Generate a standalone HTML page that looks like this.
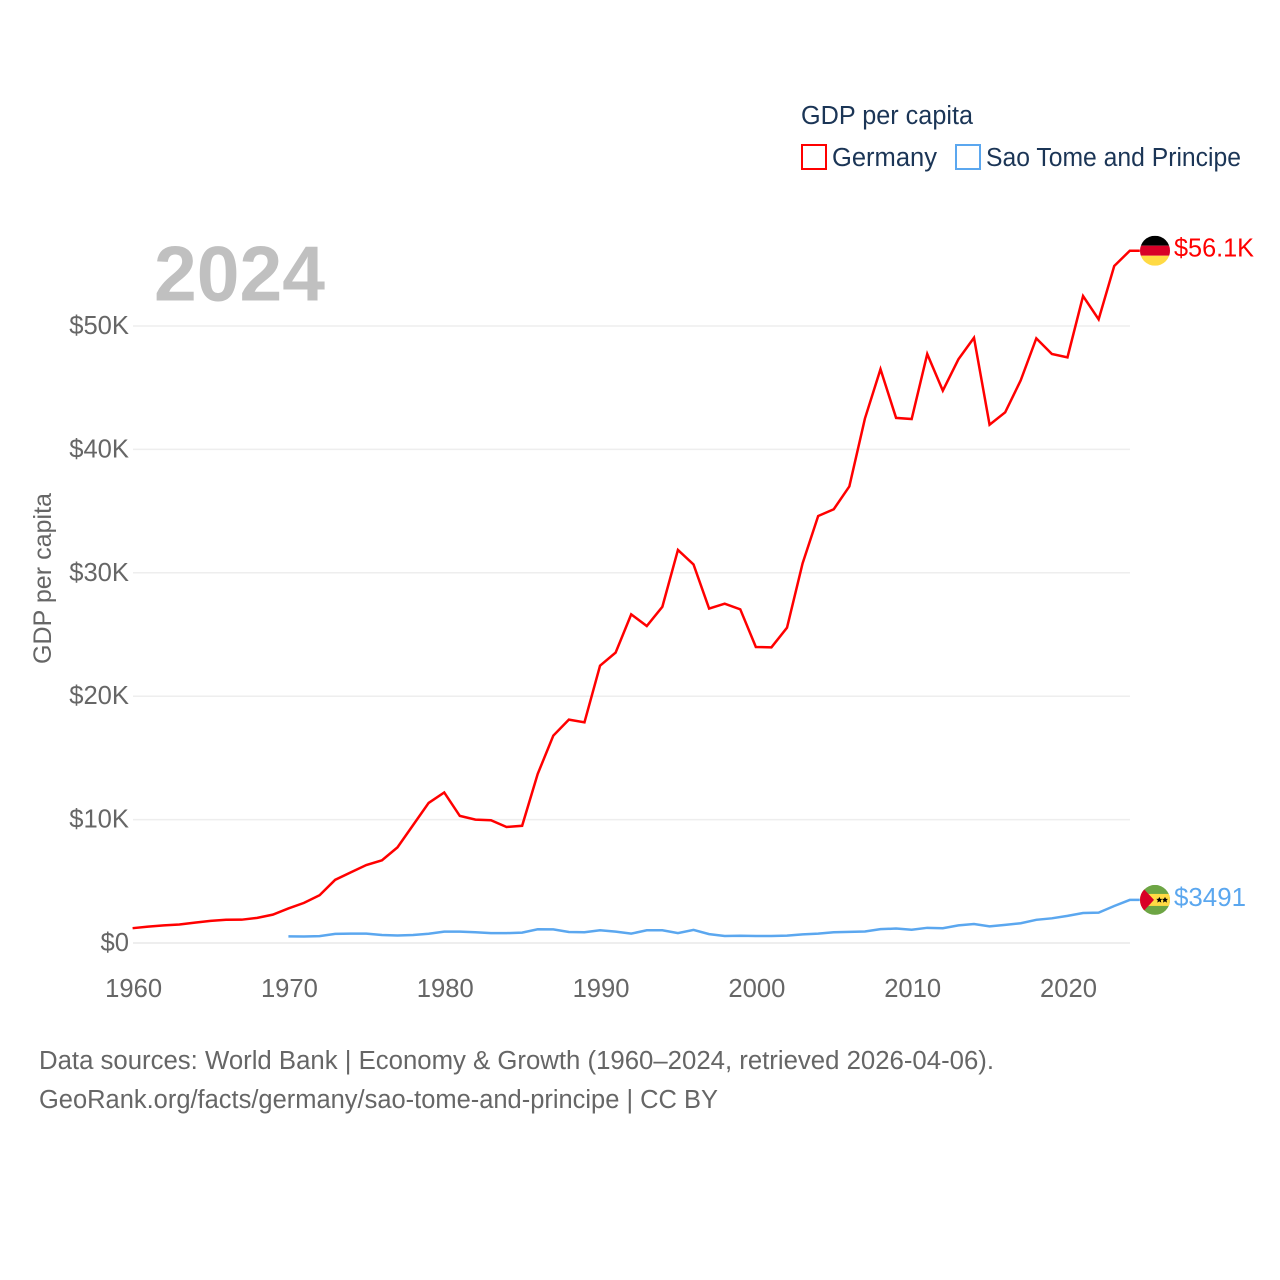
<!DOCTYPE html>
<html lang="en">
<head>
<meta charset="utf-8">
<title>GDP per capita: Germany and Sao Tome and Principe</title>
<style>
  html, body { margin: 0; padding: 0; background: #fff; }
  svg { display: block; font-family: "Liberation Sans", sans-serif; }
</style>
</head>
<body>
<svg id="chart" xmlns="http://www.w3.org/2000/svg" width="1280" height="1280" viewBox="0 0 1280 1280">
  <defs>
    <clipPath id="germany-clip"><circle cx="0" cy="0" r="15"/></clipPath>
    <clipPath id="stp-clip"><circle cx="0" cy="0" r="15"/></clipPath>
  </defs>
  <rect width="1280" height="1280" fill="#ffffff"/>
  <g id="grid"></g>
  <g id="yticks"></g>
  <g id="xticks"></g>
  <text x="154" y="300.5" font-size="78" font-weight="700" fill="#c0c0c0" textLength="171" lengthAdjust="spacingAndGlyphs">2024</text>
  <text transform="translate(51 578.5) rotate(-90)" text-anchor="middle" font-size="25" fill="#666666" textLength="171" lengthAdjust="spacingAndGlyphs">GDP per capita</text>
  <g id="series"></g>

  <g id="germany-flag">
    <g clip-path="url(#germany-clip)">
      <rect x="-15" y="-15" width="30" height="10" fill="#000000"/>
      <rect x="-15" y="-5" width="30" height="10" fill="#d80027"/>
      <rect x="-15" y="5" width="30" height="10" fill="#ffda44"/>
    </g>
  </g>
  <g id="stp-flag">
    <g clip-path="url(#stp-clip)">
      <rect x="-15" y="-15" width="30" height="30" fill="#6da544"/>
      <rect x="-15" y="-6" width="30" height="12" fill="#ffda44"/>
      <polygon points="-15,-15 -1,0 -15,15" fill="#d80027"/>
      <polygon points="4.3,-3 5.3,-1 7.3,-1 5.8,0.5 6.3,2.7 4.3,1.5 2.3,2.7 2.8,0.5 1.3,-1 3.3,-1" fill="#000000"/>
      <polygon points="10,-3 11,-1 13,-1 11.5,0.5 12,2.7 10,1.5 8,2.7 8.5,0.5 7,-1 9,-1" fill="#000000"/>
    </g>
  </g>
  <text id="germany-label" x="1174" font-size="25.5" fill="#ff0000" textLength="80" lengthAdjust="spacingAndGlyphs">$56.1K</text>
  <text id="stp-label" x="1174" font-size="25.5" fill="#5ba7ef" textLength="72" lengthAdjust="spacingAndGlyphs">$3491</text>

  <g>
    <text x="801" y="124" font-size="25.5" fill="#1b3556" textLength="172" lengthAdjust="spacingAndGlyphs">GDP per capita</text>
    <g>
      <rect x="802" y="145" width="24" height="24" fill="none" stroke="#ff0000" stroke-width="2"/>
      <text x="832" y="166" font-size="25.5" fill="#1b3556" textLength="105" lengthAdjust="spacingAndGlyphs">Germany</text>
    </g>
    <g>
      <rect x="956" y="145" width="24" height="24" fill="none" stroke="#5ba7ef" stroke-width="2"/>
      <text x="986" y="166" font-size="25.5" fill="#1b3556" textLength="255" lengthAdjust="spacingAndGlyphs">Sao Tome and Principe</text>
    </g>
  </g>

  <text x="39" y="1069" font-size="25.5" fill="#666666" textLength="955" lengthAdjust="spacingAndGlyphs">Data sources: World Bank | Economy &amp; Growth (1960–2024, retrieved 2026-04-06).</text>
  <text x="39" y="1108" font-size="25.5" fill="#666666" textLength="679" lengthAdjust="spacingAndGlyphs">GeoRank.org/facts/germany/sao-tome-and-principe | CC BY</text>

  <script>
    const germanyStartYear = 1960;
    const germanyValues = [
      1.2, 1.33, 1.43, 1.5, 1.65, 1.79, 1.88, 1.89, 2.04, 2.3,
      2.8, 3.25, 3.87, 5.12, 5.72, 6.32, 6.7, 7.75, 9.55, 11.35,
      12.2, 10.3, 10.0, 9.95, 9.4, 9.5, 13.7, 16.8, 18.1, 17.88,
      22.47, 23.53, 26.63, 25.69, 27.25, 31.85, 30.68, 27.1, 27.5, 27.04,
      23.99, 23.96, 25.55, 30.77, 34.6, 35.15, 37.0, 42.5, 46.5, 42.55,
      42.46, 47.73, 44.76, 47.3, 49.05, 42.0, 43.0, 45.6, 49.0, 47.73,
      47.46, 52.43, 50.54, 54.86, 56.1
    ];
    const stpStartYear = 1970;
    const stpValues = [
      0.54, 0.53, 0.56, 0.74, 0.76, 0.76, 0.65, 0.61, 0.65, 0.75,
      0.92, 0.92, 0.87, 0.8, 0.8, 0.84, 1.11, 1.1, 0.89, 0.87,
      1.03, 0.92, 0.76, 1.03, 1.03, 0.8, 1.06, 0.72, 0.57, 0.59,
      0.57, 0.57, 0.6, 0.7, 0.76, 0.87, 0.9, 0.93, 1.12, 1.17,
      1.07, 1.23, 1.2, 1.43, 1.54, 1.35, 1.47, 1.6, 1.88, 2.0,
      2.2, 2.43, 2.46, 3.0, 3.491
    ];
    const yTickValues = [0, 10, 20, 30, 40, 50];
    const yTickLabels = ["$0", "$10K", "$20K", "$30K", "$40K", "$50K"];
    const xTickYears = [1960, 1970, 1980, 1990, 2000, 2010, 2020];

    const NS = "http://www.w3.org/2000/svg";
    function xScale(year) { return 132.6 + (year - 1960) * (1129.8 - 132.6) / 64; }
    function yScale(value) { return 943 - value * (943 - 326) / 50; }
    function linePath(startYear, values) {
      let d = "";
      values.forEach(function (v, i) {
        d += (i ? "L" : "M") + xScale(startYear + i).toFixed(2) + " " + yScale(v).toFixed(2);
      });
      const last = values[values.length - 1];
      d += "L" + (xScale(startYear + values.length - 1) + 10).toFixed(2) + " " + yScale(last).toFixed(2);
      return d;
    }

    const gridGroup = document.getElementById("grid");
    const yGroup = document.getElementById("yticks");
    yTickValues.forEach(function (v, i) {
      const gl = document.createElementNS(NS, "line");
      
      
      gl.setAttribute("x1", 133);
      gl.setAttribute("x2", 1130);
      gl.setAttribute("y1", yScale(v));
      gl.setAttribute("y2", yScale(v));
      gl.setAttribute("stroke", "#eeeeee");
      gl.setAttribute("stroke-width", v === 0 ? 2 : 1.5);
      gridGroup.appendChild(gl);

      const t = document.createElementNS(NS, "text");
      
      
      t.setAttribute("x", 129);
      t.setAttribute("y", yScale(v) + 8);
      t.setAttribute("text-anchor", "end");
      t.setAttribute("font-size", "25.6");
      t.setAttribute("fill", "#666666");
      t.textContent = yTickLabels[i];
      yGroup.appendChild(t);
    });

    const xGroup = document.getElementById("xticks");
    xTickYears.forEach(function (year) {
      const t = document.createElementNS(NS, "text");
      
      
      t.setAttribute("x", xScale(year) + 1);
      t.setAttribute("y", 997);
      t.setAttribute("text-anchor", "middle");
      t.setAttribute("font-size", "25.6");
      t.setAttribute("fill", "#666666");
      t.textContent = String(year);
      xGroup.appendChild(t);
    });

    const seriesGroup = document.getElementById("series");
    const germanyLine = document.createElementNS(NS, "path");
    
    
    germanyLine.setAttribute("d", linePath(germanyStartYear, germanyValues));
    germanyLine.setAttribute("fill", "none");
    germanyLine.setAttribute("stroke", "#ff0000");
    germanyLine.setAttribute("stroke-width", "2.5");
    seriesGroup.appendChild(germanyLine);

    const stpLine = document.createElementNS(NS, "path");
    
    
    stpLine.setAttribute("d", linePath(stpStartYear, stpValues));
    stpLine.setAttribute("fill", "none");
    stpLine.setAttribute("stroke", "#5ba7ef");
    stpLine.setAttribute("stroke-width", "2.5");
    seriesGroup.appendChild(stpLine);

    const endX = 1155;
    const germanyEndY = yScale(germanyValues[germanyValues.length - 1]);
    const stpEndY = yScale(stpValues[stpValues.length - 1]);
    document.getElementById("germany-flag").setAttribute("transform", "translate(" + endX + " " + germanyEndY + ")");
    document.getElementById("stp-flag").setAttribute("transform", "translate(" + endX + " " + stpEndY + ")");
    document.getElementById("germany-label").setAttribute("y", germanyEndY + 6);
    document.getElementById("stp-label").setAttribute("y", stpEndY + 6);
  </script>
</svg>
</body>
</html>
